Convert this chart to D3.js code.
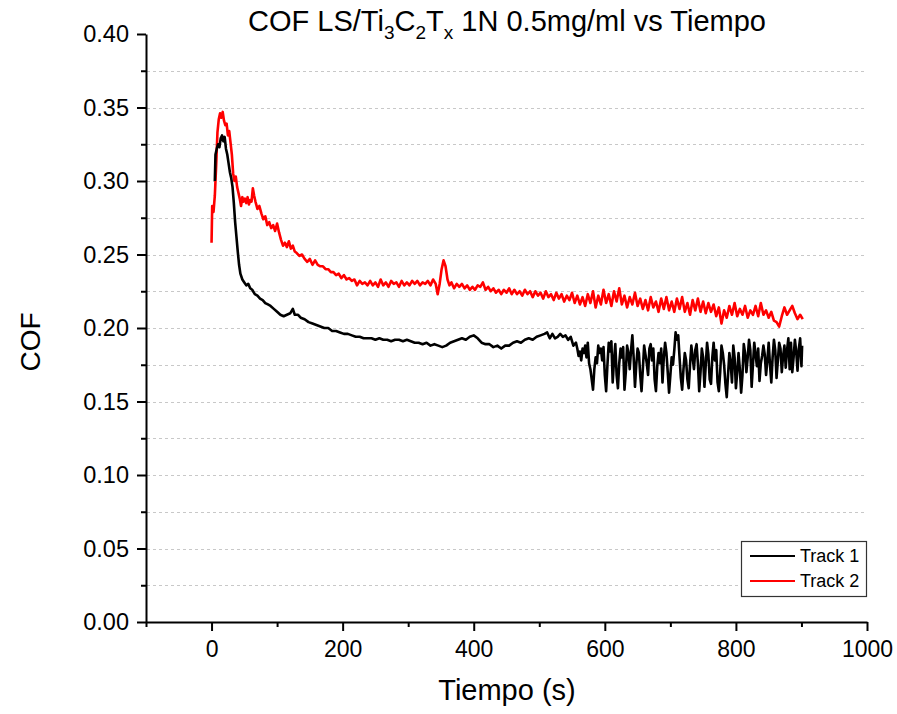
<!DOCTYPE html>
<html>
<head>
<meta charset="utf-8">
<script src="https://cdn.jsdelivr.net/npm/d3@7"></script>
<style>
  html, body { margin: 0; padding: 0; background: #fff; }
  svg { display: block; font-family: "Liberation Sans", Arial, sans-serif; }
</style>
</head>
<body>
<svg id="chart" width="897" height="714"></svg>
<script>
// Coefficient of friction vs time, two wear tracks: [time (s), COF]
const track1 = [
  [5,0.300],[6,0.318],[8,0.322],[10,0.325],[12,0.323],[14,0.329],[16,0.331],[18,0.327],[20,0.330],[22,0.322],
  [24,0.318],[26,0.312],[28,0.306],[30,0.302],[32,0.296],[34,0.285],[36,0.272],[38,0.262],[40,0.252],[42,0.243],
  [44,0.237],[47,0.233],[50,0.231],[53,0.229],[56,0.230],[59,0.227],[62,0.226],[66,0.223],[70,0.222],[74,0.220],
  [78,0.219],[82,0.217],[86,0.216],[90,0.215],[95,0.213],[100,0.211],[105,0.209],[110,0.208],[115,0.209],[120,0.210],
  [124,0.213],[127,0.209],[132,0.209],[136,0.207],[142,0.206],[148,0.204],[154,0.203],[160,0.202],[166,0.201],[172,0.200],
  [178,0.200],[184,0.198],[190,0.198],[196,0.197],[202,0.196],[208,0.196],[214,0.195],[220,0.194],[226,0.194],[232,0.193],
  [238,0.193],[244,0.193],[250,0.192],[256,0.193],[262,0.192],[268,0.192],[274,0.191],[280,0.192],[286,0.192],[292,0.191],
  [298,0.192],[304,0.191],[310,0.190],[316,0.190],[322,0.189],[328,0.190],[334,0.188],[340,0.189],[346,0.188],[352,0.187],
  [358,0.188],[364,0.190],[370,0.191],[376,0.192],[382,0.193],[388,0.192],[394,0.194],[400,0.195],[406,0.193],[412,0.190],
  [418,0.189],[424,0.189],[430,0.187],[436,0.188],[442,0.186],[448,0.188],[454,0.188],[460,0.190],[466,0.191],[472,0.190],
  [478,0.192],[484,0.193],[490,0.192],[496,0.194],[502,0.195],[508,0.196],[512,0.197],[516,0.193],[520,0.196],[524,0.193],
  [528,0.194],[532,0.196],[536,0.194],[540,0.195],[544,0.192],[548,0.194],[552,0.188],[556,0.190],[558,0.186],[560,0.181],
  [562,0.184],[564,0.178],[566,0.186],[568,0.183],[570,0.188],[572,0.180],[574,0.190],[576,0.176],[578,0.172],[580,0.165],
  [582,0.158],[584,0.172],[586,0.180],[588,0.176],[590,0.188],[592,0.183],[594,0.186],[596,0.178],[598,0.187],[600,0.168],
  [602,0.157],[604,0.175],[606,0.190],[608,0.184],[610,0.191],[612,0.163],[614,0.178],[616,0.189],[618,0.168],[620,0.159],
  [622,0.176],[624,0.186],[626,0.180],[628,0.187],[630,0.158],[632,0.170],[634,0.188],[636,0.183],[638,0.172],[640,0.185],
  [642,0.195],[644,0.180],[646,0.160],[648,0.175],[650,0.186],[652,0.183],[654,0.168],[656,0.157],[658,0.172],[660,0.188],
  [662,0.182],[664,0.176],[666,0.168],[668,0.186],[670,0.189],[672,0.178],[674,0.186],[676,0.165],[678,0.157],[680,0.174],
  [682,0.183],[684,0.176],[686,0.186],[688,0.163],[690,0.180],[692,0.190],[694,0.183],[696,0.170],[698,0.156],[700,0.168],
  [702,0.180],[704,0.175],[706,0.185],[708,0.197],[710,0.192],[712,0.195],[714,0.180],[716,0.166],[718,0.158],[720,0.172],
  [722,0.183],[724,0.178],[726,0.165],[728,0.159],[730,0.175],[732,0.188],[734,0.180],[736,0.172],[738,0.185],[740,0.189],
  [742,0.176],[744,0.157],[746,0.170],[748,0.186],[750,0.180],[752,0.160],[754,0.175],[756,0.190],[758,0.182],[760,0.165],
  [762,0.162],[764,0.180],[766,0.190],[768,0.178],[770,0.185],[772,0.163],[774,0.157],[776,0.170],[778,0.188],[780,0.183],
  [782,0.175],[784,0.162],[786,0.153],[788,0.168],[790,0.183],[792,0.176],[794,0.163],[796,0.188],[798,0.180],[800,0.159],
  [802,0.170],[804,0.183],[806,0.172],[808,0.156],[810,0.168],[812,0.189],[814,0.183],[816,0.170],[818,0.180],[820,0.192],
  [822,0.185],[824,0.160],[826,0.175],[828,0.190],[830,0.182],[832,0.174],[834,0.186],[836,0.164],[838,0.176],[840,0.181],
  [842,0.188],[844,0.182],[846,0.168],[848,0.178],[850,0.190],[852,0.175],[854,0.163],[856,0.180],[858,0.192],[860,0.185],
  [862,0.166],[864,0.178],[866,0.190],[868,0.186],[870,0.170],[872,0.181],[874,0.188],[876,0.173],[878,0.185],[880,0.193],
  [882,0.172],[884,0.190],[886,0.170],[888,0.180],[890,0.192],[892,0.184],[894,0.171],[896,0.186],[898,0.193],[900,0.174],
  [901,0.188]
];

const track2 = [
  [0,0.258],[1,0.283],[3,0.279],[5,0.290],[7,0.310],[9,0.333],[11,0.342],[13,0.346],[15,0.343],[17,0.347],
  [19,0.341],[21,0.338],[23,0.339],[25,0.331],[27,0.334],[29,0.326],[31,0.318],[33,0.305],[35,0.300],[37,0.303],
  [39,0.296],[41,0.292],[43,0.288],[45,0.283],[47,0.289],[49,0.286],[51,0.288],[53,0.285],[55,0.289],[57,0.284],
  [59,0.287],[61,0.286],[63,0.295],[65,0.290],[67,0.286],[70,0.281],[73,0.283],[76,0.278],[79,0.274],[82,0.276],
  [85,0.270],[88,0.272],[91,0.268],[94,0.270],[97,0.266],[100,0.271],[103,0.265],[106,0.260],[109,0.256],[112,0.258],
  [115,0.255],[118,0.259],[121,0.254],[124,0.256],[127,0.252],[130,0.251],[134,0.249],[138,0.250],[142,0.247],[146,0.245],
  [150,0.247],[154,0.243],[158,0.246],[162,0.243],[166,0.242],[170,0.242],[174,0.240],[178,0.240],[182,0.238],[186,0.238],
  [190,0.236],[194,0.237],[198,0.234],[202,0.236],[206,0.233],[210,0.234],[214,0.232],[218,0.233],[222,0.229],[226,0.232],
  [230,0.230],[234,0.231],[238,0.229],[242,0.232],[246,0.229],[250,0.231],[254,0.228],[258,0.233],[262,0.229],[266,0.231],
  [270,0.228],[274,0.232],[278,0.230],[282,0.231],[286,0.228],[290,0.232],[294,0.229],[298,0.231],[302,0.229],[306,0.232],
  [310,0.230],[314,0.232],[318,0.229],[322,0.231],[326,0.230],[330,0.232],[334,0.229],[338,0.233],[342,0.230],[345,0.223],
  [348,0.230],[351,0.240],[354,0.246],[357,0.242],[360,0.233],[363,0.229],[366,0.231],[370,0.227],[374,0.230],[378,0.228],
  [382,0.230],[386,0.227],[390,0.229],[394,0.226],[398,0.228],[402,0.226],[406,0.229],[410,0.228],[414,0.231],[418,0.226],
  [422,0.228],[426,0.225],[430,0.227],[434,0.224],[438,0.226],[442,0.223],[446,0.226],[450,0.224],[454,0.227],[458,0.223],
  [462,0.226],[466,0.223],[470,0.225],[474,0.222],[478,0.226],[482,0.223],[486,0.225],[490,0.221],[494,0.225],[498,0.222],
  [502,0.224],[506,0.220],[510,0.225],[514,0.221],[518,0.223],[522,0.219],[526,0.224],[530,0.220],[534,0.223],[538,0.218],
  [542,0.222],[546,0.219],[550,0.224],[554,0.217],[558,0.222],[562,0.216],[566,0.221],[570,0.215],[574,0.223],[578,0.217],
  [582,0.225],[586,0.214],[590,0.222],[594,0.216],[598,0.226],[602,0.217],[606,0.223],[610,0.215],[614,0.225],[618,0.218],
  [622,0.227],[626,0.216],[630,0.222],[634,0.214],[638,0.221],[642,0.216],[646,0.224],[650,0.215],[654,0.220],[658,0.213],
  [662,0.219],[666,0.212],[670,0.221],[674,0.214],[678,0.218],[682,0.211],[686,0.220],[690,0.213],[694,0.221],[698,0.212],
  [702,0.218],[706,0.211],[710,0.220],[714,0.213],[718,0.221],[722,0.211],[726,0.217],[730,0.209],[734,0.219],[738,0.212],
  [742,0.220],[746,0.211],[750,0.218],[754,0.210],[758,0.217],[762,0.211],[766,0.216],[770,0.208],[774,0.214],[778,0.203],
  [782,0.212],[786,0.207],[790,0.215],[794,0.209],[798,0.217],[802,0.208],[806,0.213],[810,0.209],[814,0.215],[818,0.207],
  [822,0.212],[826,0.209],[830,0.215],[834,0.208],[838,0.217],[842,0.209],[846,0.212],[850,0.207],[854,0.211],[858,0.205],
  [862,0.204],[866,0.201],[870,0.208],[874,0.214],[878,0.209],[882,0.212],[886,0.215],[890,0.210],[894,0.206],[898,0.209],
  [902,0.206]
];

const seriesNames = ["Track 1", "Track 2"];
const seriesColors = ["#000000", "#ff0000"];

const xMajorTicks = [0, 200, 400, 600, 800, 1000];
const xMinorTicks = [-100, 100, 300, 500, 700, 900];
const yMajorTicks = [0.00, 0.05, 0.10, 0.15, 0.20, 0.25, 0.30, 0.35, 0.40];
const yMinorTicks = [0.025, 0.075, 0.125, 0.175, 0.225, 0.275, 0.325, 0.375];

const svg = d3.select("#chart");
const plot = { left: 146, right: 867, top: 34, bottom: 622 };

const x = d3.scaleLinear().domain([-100, 1000]).range([plot.left, plot.right]);
const y = d3.scaleLinear().domain([0, 0.40]).range([plot.bottom, plot.top]);

// dashed horizontal grid at every major/minor y position (except ends)
const gridVals = yMajorTicks.concat(yMinorTicks).filter(v => v > 0 && v < 0.40);
svg.append("g").selectAll("line").data(gridVals).join("line")
  .attr("x1", plot.left + 1).attr("x2", plot.right)
  .attr("y1", d => Math.round(y(d)) + 0.5).attr("y2", d => Math.round(y(d)) + 0.5)
  .attr("stroke", "#c8c8c8").attr("stroke-width", 1).attr("stroke-dasharray", "3,3");

// data lines (Track 2 first so Track 1 sits on top at the peak)
const line = d3.line().x(d => x(d[0])).y(d => y(d[1]));
[[track2, seriesColors[1]], [track1, seriesColors[0]]].forEach(([data, color]) => {
  svg.append("path").datum(data)
    .attr("d", line).attr("fill", "none")
    .attr("stroke", color).attr("stroke-width", 2.6)
    .attr("stroke-linejoin", "round");
});

// x axis
const xAxis = svg.append("g").attr("transform", `translate(0,${plot.bottom})`);
xAxis.call(d3.axisBottom(x).tickValues(xMajorTicks).tickSize(9).tickSizeOuter(0).tickPadding(10).tickFormat(d3.format("d")));
xAxis.append("g").call(d3.axisBottom(x).tickValues(xMinorTicks).tickSize(5).tickSizeOuter(0).tickFormat(""))
  .select(".domain").remove();
xAxis.selectAll(".domain").attr("stroke-width", 2);
xAxis.selectAll(".tick line").attr("stroke-width", 2);
xAxis.selectAll("text").attr("font-size", 23).attr("fill", "#000")
  .attr("font-family", "'Liberation Sans', Arial, sans-serif");

// y axis
const yAxis = svg.append("g").attr("transform", `translate(${plot.left},0)`);
yAxis.call(d3.axisLeft(y).tickValues(yMajorTicks).tickSize(9).tickSizeOuter(0).tickPadding(8).tickFormat(d3.format(".2f")));
yAxis.append("g").call(d3.axisLeft(y).tickValues(yMinorTicks).tickSize(5).tickSizeOuter(0).tickFormat(""))
  .select(".domain").remove();
yAxis.selectAll(".domain").attr("stroke-width", 2);
yAxis.selectAll(".tick line").attr("stroke-width", 2);
yAxis.selectAll("text").attr("font-size", 23.5).attr("fill", "#000")
  .attr("font-family", "'Liberation Sans', Arial, sans-serif");

// axis titles
svg.append("text").attr("x", 507).attr("y", 700)
  .attr("text-anchor", "middle").attr("font-size", 29).text("Tiempo (s)");
svg.append("text").attr("transform", `translate(40,${(plot.top + plot.bottom) / 2 + 14}) rotate(-90)`)
  .attr("text-anchor", "middle").attr("font-size", 28).text("COF");

// chart title with subscripts
const title = svg.append("text").attr("x", 507).attr("y", 31)
  .attr("text-anchor", "middle").attr("font-size", 29);
title.append("tspan").text("COF LS/Ti");
title.append("tspan").attr("font-size", 19).attr("dy", 8).text("3");
title.append("tspan").attr("dy", -8).text("C");
title.append("tspan").attr("font-size", 19).attr("dy", 8).text("2");
title.append("tspan").attr("dy", -8).text("T");
title.append("tspan").attr("font-size", 19).attr("dy", 8).text("x");
title.append("tspan").attr("dy", -8).text(" 1N 0.5mg/ml vs Tiempo");

// legend
const legend = svg.append("g").attr("transform", "translate(741,541)");
legend.append("rect").attr("x", 0.5).attr("y", 0.5).attr("width", 125).attr("height", 55)
  .attr("fill", "#fff").attr("stroke", "#333").attr("stroke-width", 1.2);
seriesNames.forEach((name, i) => {
  const g = legend.append("g").attr("transform", `translate(0,${15 + i * 25})`);
  g.append("line").attr("x1", 9).attr("x2", 54).attr("y1", 0).attr("y2", 0)
    .attr("stroke", seriesColors[i]).attr("stroke-width", 2);
  g.append("text").attr("x", 59).attr("y", 6).attr("font-size", 18).text(name);
});
</script>
</body>
</html>
